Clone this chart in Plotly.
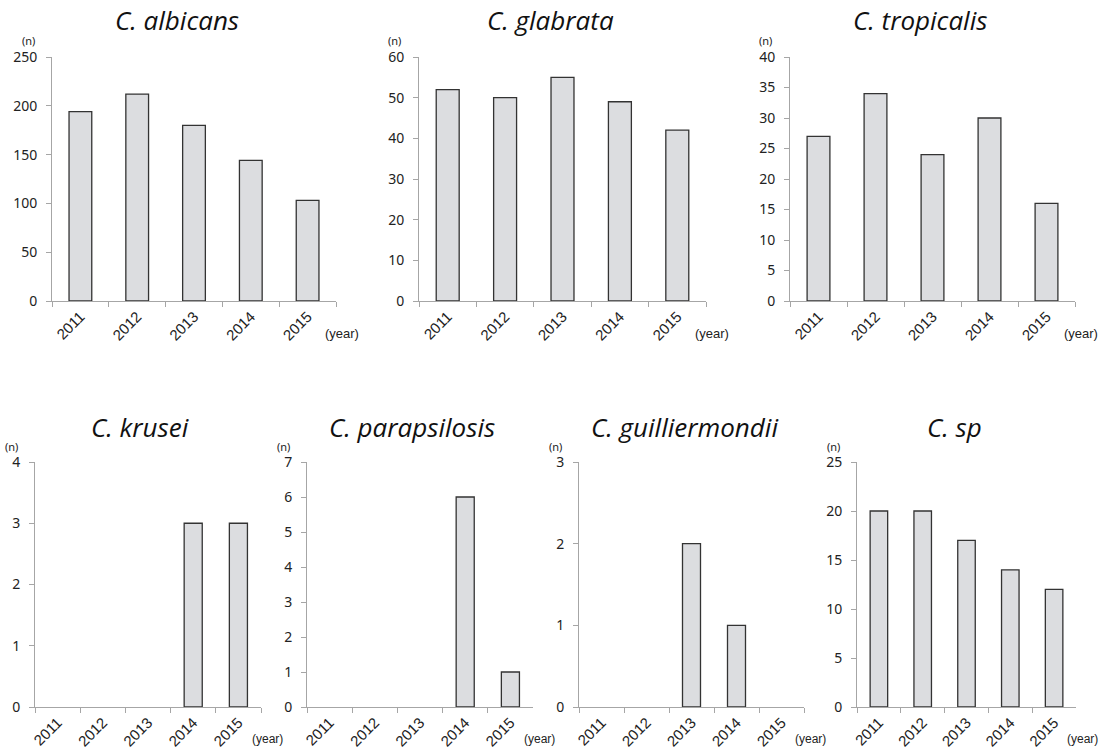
import plotly.graph_objects as go

# ---------------- data ----------------
years = ["2011", "2012", "2013", "2014", "2015"]
species = ["C. albicans", "C. glabrata", "C. tropicalis",
           "C. krusei", "C. parapsilosis", "C. guilliermondii", "C. sp"]
albicans = [194, 212, 180, 144, 103]
glabrata = [52, 50, 55, 49, 42]
tropicalis = [27, 34, 24, 30, 16]
krusei = [0, 0, 0, 3, 3]
parapsilosis = [0, 0, 0, 6, 1]
guilliermondii = [0, 0, 2, 1, 0]
c_sp = [20, 20, 17, 14, 12]
series = [albicans, glabrata, tropicalis, krusei, parapsilosis, guilliermondii, c_sp]
y_max = [250, 60, 40, 4, 7, 3, 25]
y_step = [50, 10, 5, 1, 1, 1, 5]

# ---------------- layout (pixels) ----------------
W, H = 1110, 756
x_px = [(52, 336), (419, 706), (790, 1075),
        (35, 261), (307, 533), (579, 804), (857, 1076)]
y_px = [(57, 301)] * 3 + [(462, 707)] * 4
title_px = [(177, 20), (550, 20), (920, 20),
            (140, 427), (412, 427), (684, 427), (954, 427)]

BAR_FILL = "#dcdde0"
BAR_LINE = "#333333"
AXIS = "#a6a6a6"
TXT = "#222222"

fig = go.Figure()


def px_x(p):
    return p / W


def px_y(p):
    return 1 - p / H


for i, (name, vals) in enumerate(zip(species, series)):
    k = i + 1
    top = i < 3
    fig.add_trace(go.Bar(
        x=years, y=vals, width=0.4,
        xaxis=f"x{k}", yaxis=f"y{k}",
        marker=dict(color=BAR_FILL,
                    line=dict(color=BAR_LINE, width=[1.3 if v > 0 else 0 for v in vals])),
        showlegend=False, hoverinfo="x+y",
    ))
    x0, x1 = x_px[i]
    yt, yb = y_px[i]
    fig.update_layout(**{
        f"xaxis{k}": dict(
            domain=[px_x(x0), px_x(x1)], anchor=f"y{k}", type="category",
            range=[-0.5, 4.5], tickson="boundaries", ticks="outside", ticklen=5,
            tickcolor=AXIS, showline=True, linecolor=AXIS, linewidth=1,
            showgrid=False, zeroline=False, tickangle=-45, fixedrange=True,
            automargin=False,
            tickfont=dict(family="Liberation Sans, Arial", size=15, color=TXT),
        ),
        f"yaxis{k}": dict(
            domain=[px_y(yb), px_y(yt)], anchor=f"x{k}",
            range=[0, y_max[i]], dtick=y_step[i], ticks="outside", ticklen=5,
            tickcolor=AXIS, showline=True, linecolor=AXIS, linewidth=1,
            showgrid=False, zeroline=False, fixedrange=True, ticklabelstandoff=6,
            automargin=False,
            tickfont=dict(family="Noto Sans", size=14, color=TXT),
        ),
    })
    tx, ty = title_px[i]
    fig.add_annotation(x=px_x(tx), y=px_y(ty), xref="paper", yref="paper",
                       text=f"<i>{name}</i>", showarrow=False,
                       xanchor="center", yanchor="middle",
                       font=dict(family="Open Sans", size=26, color="#111111"))
    fig.add_annotation(x=px_x(x0 - 24), y=px_y(yt - 16), xref="paper", yref="paper",
                       text="(n)", showarrow=False, xanchor="center", yanchor="middle",
                       font=dict(family="Noto Sans", size=11, color=TXT))
    fig.add_annotation(x=px_x(x1 + 6), y=px_y(yb + 32), xref="paper", yref="paper",
                       text="(year)", showarrow=False, xanchor="center", yanchor="middle",
                       font=dict(family="Liberation Sans, Arial", size=13 if top else 12, color=TXT))

fig.update_layout(width=W, height=H, margin=dict(l=0, r=0, t=0, b=0),
                  plot_bgcolor="white", paper_bgcolor="white", bargap=0.6)

fig.write_html("out.html", config={"displayModeBar": False},
               post_script="document.body.style.margin='0';document.body.style.overflow='hidden';")
